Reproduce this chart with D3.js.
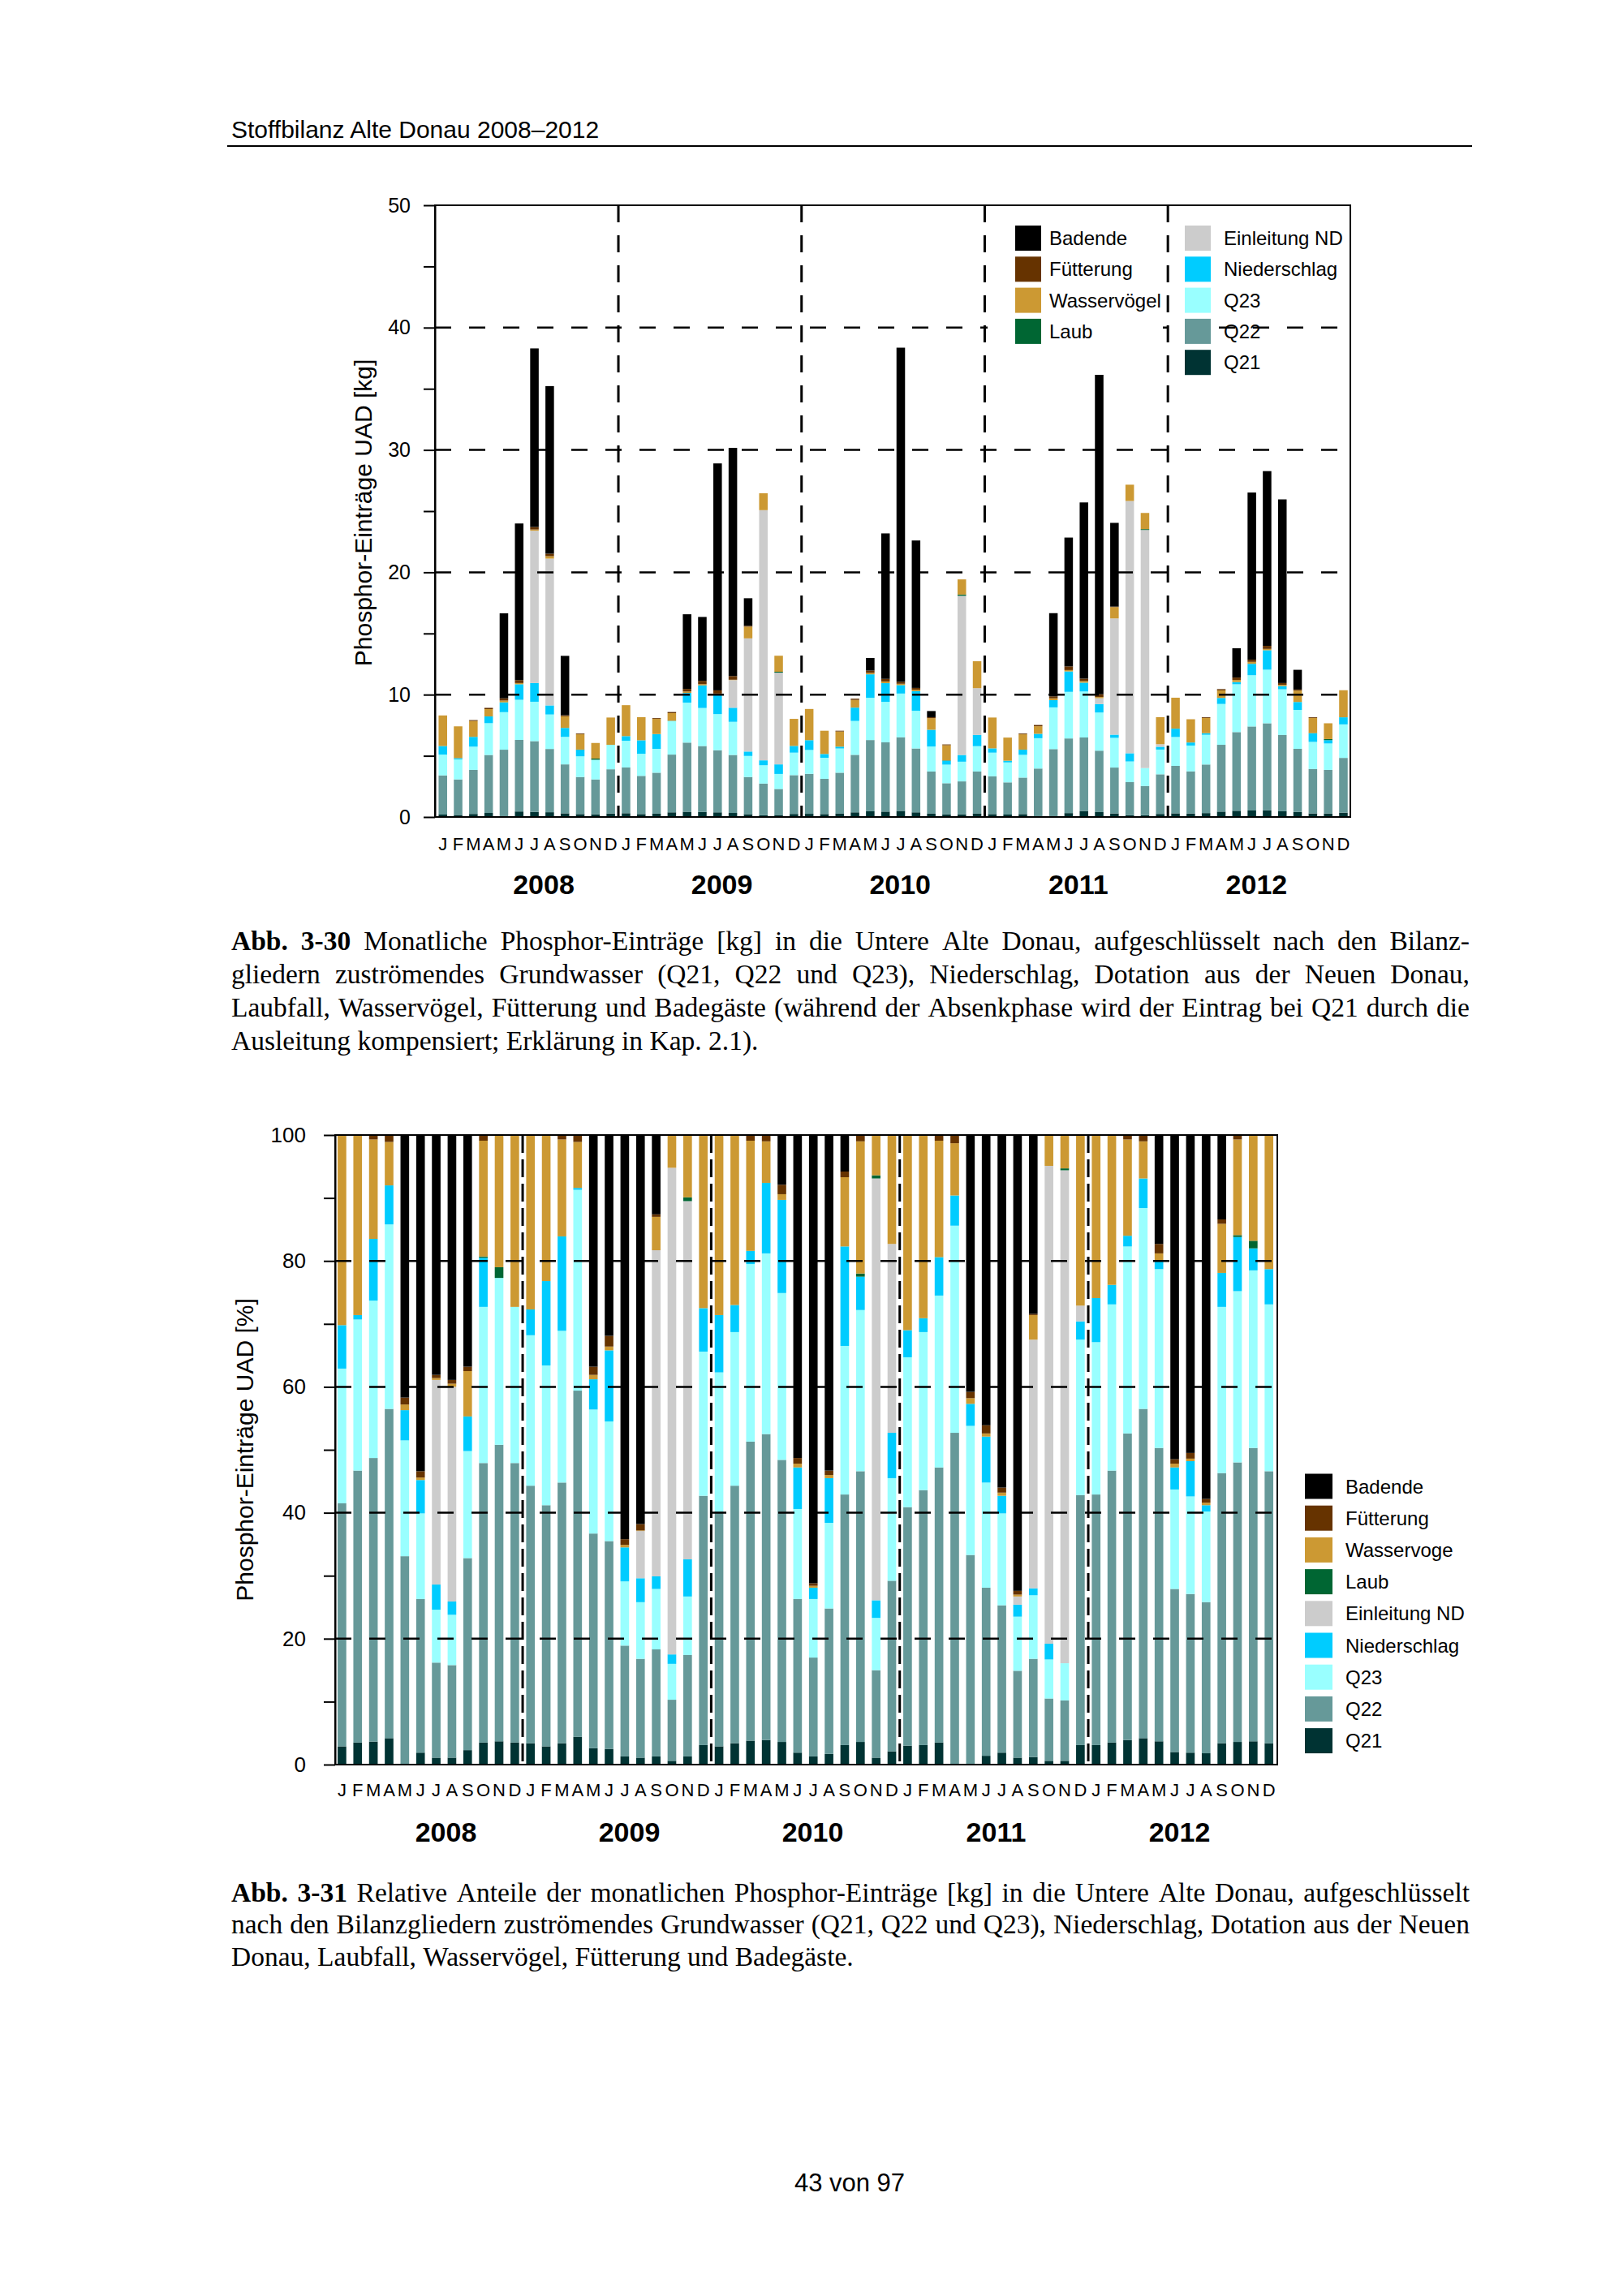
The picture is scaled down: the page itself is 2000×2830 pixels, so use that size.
<!DOCTYPE html>
<html><head><meta charset="utf-8">
<script src="https://cdn.jsdelivr.net/npm/d3@7"></script>
<style>html,body{margin:0;padding:0;background:#fff;} svg{display:block;}</style>
</head><body>
<svg id="page" width="2000" height="2830"></svg>
<script>
// ---------- DATA ----------
const months = ["J","F","M","A","M","J","J","A","S","O","N","D"];
const years = ["2008","2009","2010","2011","2012"];
const seriesKeys = ["Q21","Q22","Q23","Niederschlag","Einleitung ND","Laub","Wasservögel","Fütterung","Badende"];
const seriesColors = ["#003333","#669999","#99ffff","#00ccff","#cccccc","#006633","#cc9933","#663300","#000000"];
const legend1Col1 = ["Badende","Fütterung","Wasservögel","Laub"];
const legend1Col2 = ["Einleitung ND","Niederschlag","Q23","Q22","Q21"];
const legend2Labels = ["Badende","Fütterung","Wasservoge","Laub","Einleitung ND","Niederschlag","Q23","Q22","Q21"];
const legend2Keys = ["Badende","Fütterung","Wasservögel","Laub","Einleitung ND","Niederschlag","Q23","Q22","Q21"];
const yTicksKg = [0,5,10,15,20,25,30,35,40,45,50];
const yTicksPct = [0,10,20,30,40,50,60,70,80,90,100];

// Abb. 3-30 : monthly inputs [kg], Jan 2008 .. Dec 2012
const kgQ21 = [0.2,0.17,0.25,0.33,0,0.45,0.42,0.39,0.3,0.24,0.22,0.28,
 0.31,0.24,0.27,0.38,0.43,0.41,0.38,0.33,0.23,0.16,0.17,0.25,
 0.26,0.24,0.27,0.38,0.47,0.44,0.5,0.38,0.27,0.21,0.21,0.27,
 0.24,0.2,0.24,0,0,0.32,0.49,0.4,0.29,0.16,0.15,0.25,
 0.3,0.28,0.32,0.44,0.51,0.53,0.54,0.47,0.41,0.29,0.28,0.35];
const kgQ22 = [3.2,2.9,3.6,4.74,5.5,5.85,5.78,5.17,4.0,3.03,2.85,3.62,
 3.74,3.12,3.35,4.72,5.65,5.39,5.08,4.74,3.04,2.57,2.12,3.17,
 3.27,2.88,3.35,4.7,5.82,5.66,6.02,5.22,3.45,2.55,2.7,3.45,
 3.09,2.63,2.98,3.96,5.55,6.1,6.01,5.02,3.75,2.69,2.38,3.24,
 3.88,3.45,3.97,5.46,6.43,6.87,7.12,6.23,5.16,3.63,3.57,4.48];
const kgQ23 = [1.7,1.64,1.9,2.6,3.07,3.28,3.22,2.82,2.25,1.69,1.61,2.0,
 2.18,1.81,1.95,2.73,3.27,3.11,2.95,2.71,1.72,1.5,1.23,1.84,
 1.95,1.72,1.98,2.77,3.45,3.31,3.57,3.08,2.04,1.52,1.61,2.07,
 1.93,1.63,1.86,2.48,3.41,3.81,3.76,3.12,2.43,1.69,1.47,2.02,
 2.36,2.11,2.43,3.34,3.91,4.19,4.38,3.74,3.18,2.22,2.16,2.74];
const kgNied = [0.7,0.1,0.8,0.55,0.8,1.27,1.53,0.74,0.73,0.53,0,0,
 0.38,1.1,1.21,0.03,0.79,1.85,1.56,1.15,0.36,0.4,0.78,0.55,
 0.8,0.31,0.15,1.09,1.92,1.53,0.69,1.6,1.37,0.32,0.55,0.92,
 0.35,0.14,0.42,0.36,0.59,1.67,0.72,0.69,0.26,0.67,0,0.23,
 0.68,0.25,0.13,0.49,0.18,0.93,1.59,0.26,0.65,0.7,0.27,0.58];
const kgEinl = [0,0,0,0,0,0,12.45,12.0,0,0,0,0,
 0,0,0,0,0,0,0,2.26,9.25,20.45,7.5,0,
 0,0,0,0,0,0,0,0,0,0,13.01,3.82,
 0,0,0,0,0,0,0,0.48,9.5,20.62,19.46,0.21,
 0,0,0,0,0,0,0,0,0,0,0,0];
const kgLaub = [0,0,0,0,0,0,0,0,0,0.02,0.1,0,
 0,0,0,0,0,0,0,0,0,0,0.07,0,
 0,0,0,0,0,0,0,0,0,0.03,0.1,0,
 0,0,0,0,0,0,0,0,0,0,0.07,0,
 0,0,0,0,0,0,0,0,0,0.02,0.09,0];
const kgWasser = [2.5,2.6,1.3,0.6,0.15,0.1,0.1,0.2,0.95,1.25,1.27,2.23,
 2.53,1.89,1.24,0.63,0.12,0.1,0.12,0.03,0.96,1.38,1.31,2.21,
 2.55,1.9,1.24,0.63,0.12,0.14,0.11,0.12,0.95,1.24,1.24,2.2,
 2.52,1.89,1.26,0.62,0.15,0.11,0.13,0.1,0.93,1.33,1.32,2.21,
 2.53,1.9,1.25,0.62,0.17,0.16,0.11,0.1,0.93,1.24,1.29,2.21];
const kgFuet = [0,0,0.07,0.1,0.18,0.24,0.2,0.2,0.09,0.06,0,0,
 0,0,0.06,0.09,0.21,0.27,0.26,0.3,0.07,0,0,0,
 0,0,0.06,0.1,0.19,0.21,0.16,0.15,0.08,0.06,0,0,
 0,0,0.06,0.1,0.16,0.3,0.2,0.22,0.04,0,0,0,
 0,0,0.06,0.1,0.2,0.18,0.25,0.15,0.09,0.06,0,0];
const kgBad = [0,0,0,0,6.95,12.8,14.6,13.7,4.85,0,0,0,
 0,0,0,0,6.1,5.22,18.55,18.65,2.25,0,0,0,
 0,0,0,0,1.03,11.89,27.31,12.05,0.5,0,0,0,
 0,0,0,0,6.8,10.53,14.4,26.32,6.84,0,0,0,
 0,0,0,0,2.39,13.66,14.28,15.01,1.61,0,0,0];

// Abb. 3-31 : relative shares [%]
const pctQ21 = [2.9,3.5,3.65,4.2,0,1.9,1.1,1.1,2.3,3.5,3.7,3.5,
 3.4,2.9,3.4,4.4,2.6,2.5,1.3,1.1,1.3,0.6,1.3,3.1,
 2.9,3.4,3.8,3.9,3.6,1.9,1.3,1.7,3.1,3.6,1.1,2.1,
 3.0,3.1,3.5,0,0,1.4,1.9,1.1,1.2,0.6,0.6,3.1,
 3.1,3.5,3.9,4.2,3.7,2.0,1.9,1.8,3.4,3.6,3.7,3.4];
const pctQ22 = [38.6,43.2,45.05,52.3,33.1,24.4,15.1,14.7,30.5,44.4,47.1,44.4,
 40.9,38.3,41.4,55.0,34.1,33.0,17.6,15.7,17.0,9.7,16.1,39.6,
 37.3,40.9,47.5,48.6,44.8,24.4,15.7,23.1,39.8,43.0,13.9,27.1,
 37.9,40.5,43.7,52.7,33.3,26.7,23.4,13.8,15.6,9.9,9.6,39.7,
 39.8,43.2,48.7,52.3,46.6,25.9,25.2,24.0,42.9,44.4,46.6,43.2];
const pctQ23 = [21.4,24.0,25.0,29.3,18.4,13.6,8.4,8.0,17.0,24.8,26.5,24.8,
 23.9,22.2,24.1,31.9,19.7,19.0,10.2,9.0,9.6,5.7,9.3,22.9,
 22.1,24.4,28.2,28.7,26.5,14.3,9.3,13.6,23.6,25.6,8.3,16.3,
 23.8,25.1,27.3,32.9,20.5,16.7,14.6,8.6,10.1,6.2,5.9,24.7,
 24.2,26.4,29.7,31.9,28.4,15.8,15.5,14.4,26.4,27.2,28.2,26.5];
const pctNied = [6.9,0.7,9.8,6.2,4.8,5.3,4.0,2.1,5.5,7.8,0,0,
 4.1,13.4,15.0,0.3,4.8,11.3,5.4,3.8,2.0,1.5,5.9,6.9,
 9.1,4.3,2.1,11.2,14.8,6.6,1.8,7.1,15.8,5.3,2.8,7.2,
 4.3,2.2,6.1,4.8,3.5,7.3,2.8,1.9,1.1,2.5,0,2.9,
 7.0,3.1,1.7,4.7,1.3,3.5,5.6,1.0,5.4,8.6,3.5,5.6];
const pctEinl = [0,0,0,0,0,0,32.5,34.1,0,0,0,0,
 0,0,0,0,0,0,0,7.5,51.8,77.3,56.9,0,
 0,0,0,0,0,0,0,0,0,0,67.0,30.0,
 0,0,0,0,0,0,0,1.3,39.5,75.9,78.3,2.5,
 0,0,0,0,0,0,0,0,0,0,0,0];
const pctLaub = [0,0,0,0,0,0,0,0,0,0.2,1.7,0,
 0,0,0,0,0,0,0,0,0,0,0.6,0,
 0,0,0,0,0,0,0,0,0,0.5,0.5,0,
 0,0,0,0,0,0,0,0,0,0,0.3,0,
 0,0,0,0,0,0,0,0,0,0.3,1.2,0];
const pctWasser = [30.2,28.6,15.8,6.9,0.9,0.4,0.3,0.5,7.2,18.4,21.0,27.3,
 27.7,23.2,15.4,7.3,0.7,0.6,0.4,0.1,5.3,5.2,9.9,27.5,
 28.6,27.0,17.5,6.6,0.9,0.6,0.3,0.5,11.0,21.0,6.4,17.3,
 31.0,29.1,18.5,8.3,0.9,0.5,0.5,0.3,3.9,4.9,5.3,27.1,
 25.9,23.8,15.3,5.9,1.2,0.6,0.4,0.4,7.8,15.2,16.8,21.3];
const pctFuet = [0,0,0.7,1.1,1.1,1.0,0.5,0.6,0.7,0.9,0,0,
 0,0,0.7,1.1,1.3,1.7,0.9,1.0,0.4,0,0,0,
 0,0,0.9,1.0,1.5,0.9,0.4,0.7,0.9,1.0,0,0,
 0,0,0.9,1.3,1.0,1.3,0.8,0.6,0.2,0,0,0,
 0,0,0.7,1.0,1.5,0.7,0.9,0.6,0.7,0.7,0,0];
const pctBad = [0,0,0,0,41.7,53.4,38.1,38.9,36.8,0,0,0,
 0,0,0,0,36.8,31.9,64.2,61.8,12.6,0,0,0,
 0,0,0,0,7.9,51.3,71.2,53.3,5.8,0,0,0,
 0,0,0,0,40.8,46.1,56.0,72.4,28.4,0,0,0,
 0,0,0,0,17.3,51.5,50.5,57.8,13.4,0,0,0];

// ---------- BUILD TABLES ----------
function buildRows(arrs) {
  return d3.range(60).map(i => {
    const r = {idx: i};
    seriesKeys.forEach((k, j) => r[k] = arrs[j][i]);
    return r;
  });
}
const rowsKg = buildRows([kgQ21,kgQ22,kgQ23,kgNied,kgEinl,kgLaub,kgWasser,kgFuet,kgBad]);
const rowsPct = buildRows([pctQ21,pctQ22,pctQ23,pctNied,pctEinl,pctLaub,pctWasser,pctFuet,pctBad]);
const colorOf = d3.scaleOrdinal().domain(seriesKeys).range(seriesColors);

const sans = "'Liberation Sans', Arial, Helvetica, sans-serif";
const serif = "'Liberation Serif', 'Times New Roman', serif";
const svg = d3.select("#page");
svg.append("rect").attr("width",2000).attr("height",2830).attr("fill","#fff");

// ---------- HEADER ----------
svg.append("text").attr("x",285).attr("y",170).attr("font-family",sans).attr("font-size",30)
  .text("Stoffbilanz Alte Donau 2008–2012");
svg.append("line").attr("x1",280).attr("x2",1814).attr("y1",180).attr("y2",180)
  .attr("stroke","#000").attr("stroke-width",2);

// ---------- CHART FUNCTION ----------
function drawChart(o) {
  const g = svg.append("g");
  const x = d3.scaleBand().domain(d3.range(60)).range([o.bx0, o.bx1]).paddingInner(o.pi).paddingOuter(o.po);
  const y = d3.scaleLinear().domain(o.yDomain).range([o.bottom, o.top]);
  const layers = d3.stack().keys(seriesKeys).offset(o.offset)(o.rows);

  g.append("g").selectAll("g").data(layers).join("g")
    .attr("fill", d => colorOf(d.key))
    .selectAll("rect").data(d => d).join("rect")
    .attr("x", (d, i) => x(i)).attr("width", x.bandwidth())
    .attr("y", d => y(d[1]))
    .attr("height", d => Math.max(0, y(d[0]) - y(d[1])));

  // horizontal dashed grid (drawn over bars)
  g.append("g").selectAll("line").data(o.grid).join("line")
    .attr("x1", o.left).attr("x2", o.right)
    .attr("y1", d => y(d)).attr("y2", d => y(d))
    .attr("stroke", "#000").attr("stroke-width", 2.5).attr("stroke-dasharray", "20 22");

  // vertical year separators
  const seps = [1,2,3,4].map(k => (x(12*k-1) + x.bandwidth() + x(12*k)) / 2);
  g.append("g").selectAll("line").data(seps).join("line")
    .attr("x1", d => d).attr("x2", d => d).attr("y1", o.top).attr("y2", o.bottom)
    .attr("stroke", "#000").attr("stroke-width", 3).attr("stroke-dasharray", o.vdash);

  if (o.beforeFrame) o.beforeFrame(g, y);

  // frame
  g.append("rect").attr("x", o.left).attr("y", o.top)
    .attr("width", o.right - o.left).attr("height", o.bottom - o.top)
    .attr("fill", "none").attr("stroke", "#000").attr("stroke-width", 2);

  // y axis
  const ya = g.append("g").attr("transform", `translate(${o.left},0)`)
    .call(d3.axisLeft(y).tickValues(o.ticks).tickSize(o.tickLen).tickSizeOuter(0).tickPadding(o.tickPad)
      .tickFormat(o.tickFmt));
  ya.selectAll("text").attr("font-size", o.tickFont).attr("font-family", sans).attr("fill", "#000");
  ya.selectAll("line").attr("stroke-width", 2);
  ya.select("path.domain").attr("stroke-width", 2);

  // x axis month letters
  const xa = g.append("g").attr("transform", `translate(0,${o.bottom})`)
    .call(d3.axisBottom(x).tickSize(0).tickPadding(o.monthPad).tickFormat(i => months[i % 12]));
  xa.select("path.domain").remove();
  xa.selectAll("text").attr("font-size", 22).attr("font-family", sans).attr("fill", "#000");

  // year labels
  g.append("g").selectAll("text").data(years).join("text")
    .attr("x", (d, k) => o.yearX0 + k * o.yearStep).attr("y", o.yearY)
    .attr("text-anchor", "middle").attr("font-family", sans).attr("font-weight", "bold")
    .attr("font-size", 34).text(d => d);

  // y title
  g.append("text").attr("transform", `translate(${o.titleX},${o.titleY}) rotate(-90)`)
    .attr("text-anchor", "middle").attr("font-family", sans).attr("font-size", 30)
    .text(o.title);
  return {x, y, g};
}

// ---------- CHART 1 ----------
drawChart({
  rows: rowsKg, offset: d3.stackOffsetNone, yDomain: [0, 50],
  left: 536, right: 1664, top: 253, bottom: 1007,
  bx0: 536.7, bx1: 1664.5, pi: 0.44, po: 0.2,
  grid: [10, 20, 30, 40], vdash: "21 16",
  ticks: yTicksKg, tickLen: 14, tickPad: 16, tickFont: 25,
  tickFmt: v => (v % 10 === 0 ? v : ""),
  monthPad: 25, yearX0: 670, yearStep: 219.6, yearY: 1102,
  titleX: 458, titleY: 632, title: "Phosphor-Einträge UAD [kg]",
  beforeFrame: (g) => {
    g.append("rect").attr("x", 1217).attr("y", 262).attr("width", 216).attr("height", 200).attr("fill", "#fff");
    const leg = g.append("g");
    legend1Col1.forEach((lab, i) => {
      const cy = 293.5 + i * 38.3;
      leg.append("rect").attr("x", 1251).attr("y", cy - 15.5).attr("width", 32).attr("height", 31)
        .attr("fill", colorOf(lab));
      leg.append("text").attr("x", 1293).attr("y", cy + 8.5).attr("font-family", sans)
        .attr("font-size", 24).text(lab);
    });
    legend1Col2.forEach((lab, i) => {
      const cy = 293.5 + i * 38.3;
      leg.append("rect").attr("x", 1460).attr("y", cy - 15.5).attr("width", 32).attr("height", 31)
        .attr("fill", colorOf(lab));
      leg.append("text").attr("x", 1508).attr("y", cy + 8.5).attr("font-family", sans)
        .attr("font-size", 24).text(lab);
    });
  }
});

// ---------- CHART 2 ----------
drawChart({
  rows: rowsPct, offset: d3.stackOffsetExpand, yDomain: [0, 1],
  left: 413, right: 1574, top: 1399, bottom: 2175,
  bx0: 412.2, bx1: 1572.9, pi: 0.45, po: 0.2,
  grid: [0.2, 0.4, 0.6, 0.8], vdash: "22 8",
  ticks: yTicksPct.map(v => v / 100), tickLen: 14, tickPad: 22, tickFont: 26,
  tickFmt: v => (Math.round(v * 100) % 20 === 0 ? Math.round(v * 100) : ""),
  monthPad: 23, yearX0: 549.5, yearStep: 226, yearY: 2270,
  titleX: 312, titleY: 1787, title: "Phosphor-Einträge UAD [%]"
});

// legend chart 2
legend2Labels.forEach((lab, i) => {
  const cy = 1832 + i * 39.2;
  svg.append("rect").attr("x", 1608).attr("y", cy - 15.5).attr("width", 34).attr("height", 31)
    .attr("fill", colorOf(legend2Keys[i]));
  svg.append("text").attr("x", 1658).attr("y", cy + 8.5).attr("font-family", sans)
    .attr("font-size", 24).text(lab);
});

// ---------- CAPTIONS ----------
function justLine(segs, x0, x1, yb, justify, fs) {
  const words = [];
  segs.forEach(s => s.t.split(" ").filter(w => w.length).forEach(w => words.push({w, b: s.b})));
  const t = svg.append("text").attr("y", yb).attr("font-family", serif).attr("font-size", fs);
  const spans = words.map(o => t.append("tspan").attr("font-weight", o.b ? "bold" : "normal").text(o.w));
  const widths = spans.map(s => s.node().getComputedTextLength());
  const total = d3.sum(widths);
  const gap = justify ? Math.max(fs * 0.12, (x1 - x0 - total) / (words.length - 1)) : fs * 0.25;
  let xx = x0;
  spans.forEach((s, i) => { s.attr("x", xx); xx += widths[i] + gap; });
}
const capFont = 33.5;
const cap1 = [
  [{t:"Abb. 3-30", b:true},{t:" Monatliche Phosphor-Einträge [kg] in die Untere Alte Donau, aufgeschlüsselt nach den Bilanz-", b:false}],
  [{t:"gliedern zuströmendes Grundwasser (Q21, Q22 und Q23), Niederschlag, Dotation aus der Neuen Donau,", b:false}],
  [{t:"Laubfall, Wasservögel, Fütterung und Badegäste (während der Absenkphase wird der Eintrag bei Q21 durch die", b:false}],
  [{t:"Ausleitung kompensiert; Erklärung in Kap. 2.1).", b:false}]
];
const cap1Y = [1171, 1212, 1253, 1294];
cap1.forEach((l, i) => justLine(l, 285, 1811, cap1Y[i], i < cap1.length - 1, capFont));
const cap2 = [
  [{t:"Abb. 3-31", b:true},{t:" Relative Anteile der monatlichen Phosphor-Einträge [kg] in die Untere Alte Donau, aufgeschlüsselt", b:false}],
  [{t:"nach den Bilanzgliedern zuströmendes Grundwasser (Q21, Q22 und Q23), Niederschlag, Dotation aus der Neuen", b:false}],
  [{t:"Donau, Laubfall, Wasservögel, Fütterung und Badegäste.", b:false}]
];
const cap2Y = [2344, 2383, 2423];
cap2.forEach((l, i) => justLine(l, 285, 1811, cap2Y[i], i < cap2.length - 1, capFont));

// ---------- FOOTER ----------
svg.append("text").attr("x", 1047).attr("y", 2701).attr("text-anchor", "middle")
  .attr("font-family", sans).attr("font-size", 31).text("43 von 97");
</script>
</body></html>
